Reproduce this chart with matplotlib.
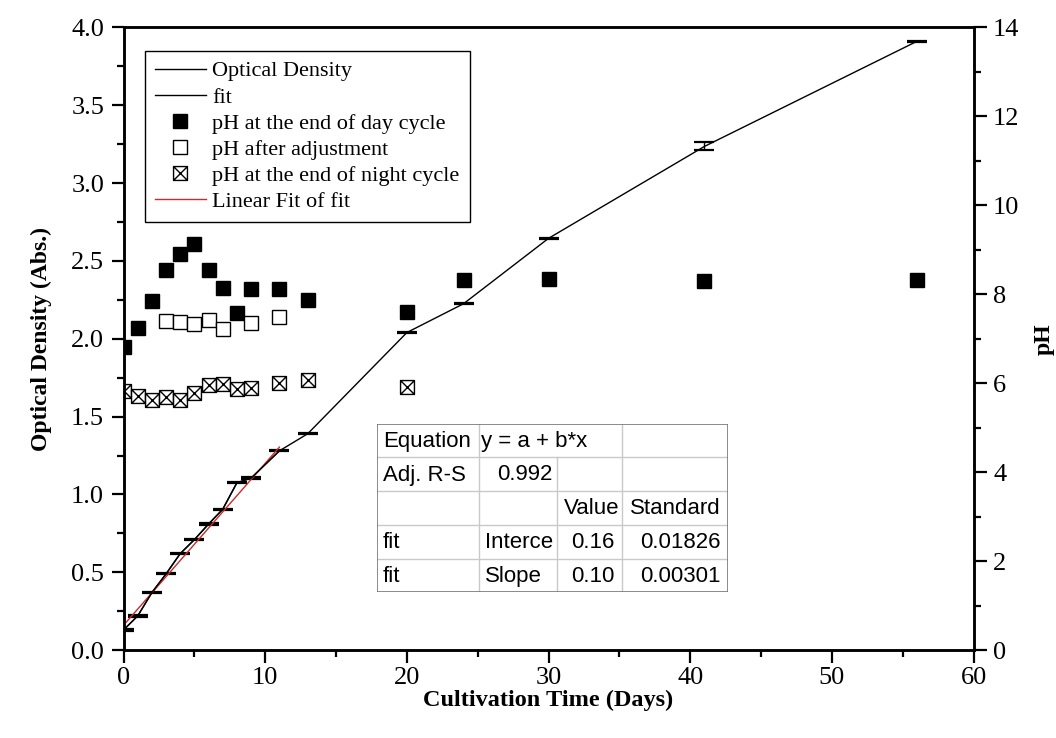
import numpy as np
import matplotlib
matplotlib.use("Agg")
import matplotlib.pyplot as plt
from matplotlib.path import Path

plt.rcParams['font.family'] = ['Liberation Serif', 'DejaVu Serif']

# optical density (mean +- sd)
days_od = [0, 1, 2, 3, 4, 5, 6, 7, 8, 9, 11, 13, 20, 24, 30, 41, 56]
od = [0.13, 0.22, 0.37, 0.49, 0.62, 0.71, 0.81, 0.905, 1.075, 1.105, 1.28,
      1.39, 2.04, 2.225, 2.645, 3.235, 3.91]
od_err = [0.004, 0.004, 0.004, 0.004, 0.004, 0.004, 0.004, 0.004, 0.004,
          0.004, 0.004, 0.004, 0.004, 0.004, 0.004, 0.026, 0.004]

# linear part used for the fit
fit_days = [0, 1, 2, 3, 4, 5, 6, 7, 8, 9, 11]
fit_intercept = 0.16
fit_slope = 0.104
fit_adj_r2 = 0.992
fit_intercept_se = 0.01826
fit_slope_se = 0.00301

# pH readings
days_day = [0, 1, 2, 3, 4, 5, 6, 7, 8, 9, 11, 13, 20, 24, 30, 41, 56]
ph_day = [6.82, 7.25, 7.84, 8.54, 8.91, 9.12, 8.54, 8.15, 7.58, 8.11, 8.11,
          7.88, 7.60, 8.31, 8.34, 8.29, 8.31]
days_adj = [3, 4, 5, 6, 7, 9, 11]
ph_adj = [7.40, 7.38, 7.33, 7.43, 7.23, 7.35, 7.48]
days_night = [0, 1, 2, 3, 4, 5, 6, 7, 8, 9, 11, 13, 20]
ph_night = [5.83, 5.71, 5.62, 5.69, 5.63, 5.78, 5.95, 5.99, 5.88, 5.90, 6.01,
            6.07, 5.92]

labels = ['Optical Density', 'fit', 'pH at the end of day cycle',
          'pH after adjustment', 'pH at the end of night cycle', 'Linear Fit of fit']

# square with a cross inside
crossed_sq = Path(
    [(-1, -1), (1, -1), (1, 1), (-1, 1), (-1, -1), (-1, -1), (1, 1), (-1, 1), (1, -1)],
    [Path.MOVETO, Path.LINETO, Path.LINETO, Path.LINETO, Path.CLOSEPOLY,
     Path.MOVETO, Path.LINETO, Path.MOVETO, Path.LINETO])

fig = plt.figure(figsize=(10.56, 7.38), dpi=100)
ax = fig.add_axes([0.117, 0.119, 0.805, 0.844])
ax2 = ax.twinx()

l_od = ax.errorbar(days_od, od, yerr=od_err, color='black', lw=1.0,
                   elinewidth=1.0, capsize=7, capthick=1.6)
l_fit, = ax.plot(fit_days, od[:len(fit_days)], color='black', lw=1.0)
xf = np.array([fit_days[0], fit_days[-1]])
l_lin, = ax.plot(xf, fit_intercept + fit_slope * xf, color='#cc2a2a', lw=1.0)

h_day, = ax2.plot(days_day, ph_day, ls='none', marker='s', ms=10,
                  mfc='black', mec='black')
h_adj, = ax2.plot(days_adj, ph_adj, ls='none', marker='s', ms=10,
                  mfc='white', mec='black', mew=1.0)
h_night, = ax2.plot(days_night, ph_night, ls='none', marker=crossed_sq, ms=10,
                    mfc='white', mec='black', mew=1.0)

ax.set_xlim(0, 60)
ax.set_ylim(0, 4.0)
ax2.set_ylim(0, 14)
ax.set_xticks(np.arange(0, 61, 10))
ax.set_xticks(np.arange(0, 61, 5), minor=True)
ax.set_yticks(np.arange(0, 4.01, 0.5))
ax.set_yticks(np.arange(0, 4.01, 0.25), minor=True)
ax.set_yticklabels([f'{v:.1f}' for v in np.arange(0, 4.01, 0.5)])
ax2.set_yticks(np.arange(0, 15, 2))
ax2.set_yticks(np.arange(0, 15, 1), minor=True)

for a in (ax, ax2):
    a.tick_params(which='major', length=9, width=1.6, labelsize=19,
                  direction='out', pad=5)
    a.tick_params(which='minor', length=5, width=1.6, direction='out')
    for s in a.spines.values():
        s.set_linewidth(1.8)
ax.tick_params(axis='x', pad=3)
ax.tick_params(top=False, right=False)
ax2.tick_params(left=False, top=False)

ax.set_xlabel('Cultivation Time (Days)', fontsize=17.5, fontweight='bold', labelpad=1)
ax.set_ylabel('Optical Density (Abs.)', fontsize=17, fontweight='bold', labelpad=14)
ax2.set_ylabel('pH', fontsize=17, fontweight='bold', labelpad=10)

handles = [l_od.lines[0], l_fit, h_day, h_adj, h_night, l_lin]
leg = ax.legend(handles, labels, loc='upper left',
                bbox_to_anchor=(0.137, 0.931), bbox_transform=fig.transFigure,
                fontsize=16, frameon=True, fancybox=False, edgecolor='black',
                framealpha=1, numpoints=1, handlelength=2.3, handletextpad=0.3,
                labelspacing=0.25, borderpad=0.45, borderaxespad=0)
leg.get_frame().set_linewidth(1.0)
leg.set_zorder(10)
ax.set_zorder(ax2.get_zorder() + 1)
ax.patch.set_visible(False)

# results table of the linear fit
tab = fig.add_axes([377 / 1056, 1 - 592 / 738, 351 / 1056, 168 / 738])
tab.set_xlim(0, 351)
tab.set_ylim(168, 0)
tab.axis('off')
grid_c = '#c9c9c9'
rows = [0, 33, 67, 101, 135, 168]
for y in rows[1:-1]:
    tab.plot([0, 351], [y, y], color=grid_c, lw=1.0)
tab.plot([102, 102], [0, 168], color=grid_c, lw=1.0)
tab.plot([180, 180], [33, 168], color=grid_c, lw=1.0)
tab.plot([245, 245], [0, 168], color=grid_c, lw=1.0)
tab.plot([0, 351, 351, 0, 0], [0, 0, 168, 168, 0], color='#777777', lw=1.2)

cells = [
    ('Equation', 6, 0, 'left'), ('y = a + b*x', 104, 0, 'left'),
    ('Adj. R-S', 6, 1, 'left'), (f'{fit_adj_r2:.3f}', 176, 1, 'right'),
    ('Value', 242, 2, 'right'), ('Standard', 344, 2, 'right'),
    ('fit', 6, 3, 'left'), ('Interce', 108, 3, 'left'),
    (f'{fit_intercept:.2f}', 238, 3, 'right'), (f'{fit_intercept_se:.5f}', 344, 3, 'right'),
    ('fit', 6, 4, 'left'), ('Slope', 108, 4, 'left'),
    (f'{fit_slope:.2f}', 238, 4, 'right'), (f'{fit_slope_se:.5f}', 344, 4, 'right'),
]
for txt, x, r, ha in cells:
    tab.text(x, (rows[r] + rows[r + 1]) / 2 + 1, txt, ha=ha, va='center',
             fontsize=16, family='Liberation Sans')

fig.savefig('out.png', dpi=100)
